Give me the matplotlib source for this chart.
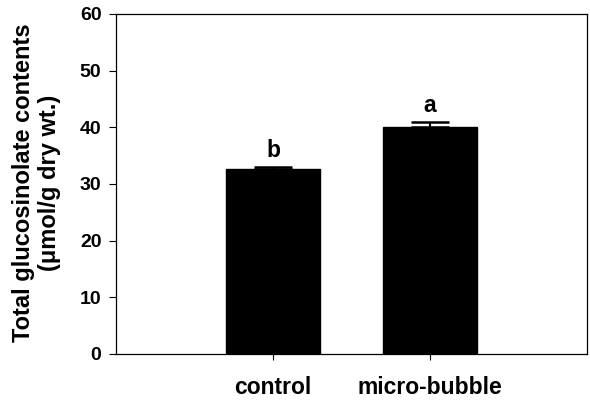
import matplotlib
matplotlib.use("Agg")
import matplotlib.pyplot as plt

categories = ["control", "micro-bubble"]
values = [32.6, 40.0]
errors = [0.4, 0.9]
letters = ["b", "a"]
yticks = [0, 10, 20, 30, 40, 50, 60]

plt.rcParams["font.family"] = ["Liberation Sans", "DejaVu Sans"]

fig = plt.figure(figsize=(5.9, 4.01), dpi=100)
ax = fig.add_axes([116 / 590, (401 - 354) / 401, 471 / 590, 340 / 401])

pos = [1, 2]
ax.bar(pos, values, width=0.6, color="black", edgecolor="black",
       yerr=[[0] * len(errors), errors], capsize=14,
       error_kw=dict(ecolor="black", elinewidth=1.5, capthick=1.8))

for p, v, e, t in zip(pos, values, errors, letters):
    ax.text(p, v + e + 1.8, t, ha="center", va="baseline",
            fontsize=16.5, fontweight="bold")

ax.set_xlim(0, 3)
ax.set_ylim(0, 60)
ax.set_xticks(pos)
ax.set_xticklabels(categories, fontsize=16.5, fontweight="bold")
ax.set_yticks(yticks)
ax.set_yticklabels([str(t) for t in yticks], fontsize=14, fontweight="bold")
ax.tick_params(axis="x", length=4.5, width=0.8, pad=11)
ax.tick_params(axis="y", length=5, width=0.8, pad=5.5)
for s in ax.spines.values():
    s.set_linewidth(0.9)

fig.text(36.5 / 590, 1 - 183 / 401,
         "Total glucosinolate contents\n(\u03bcmol/g dry wt.)",
         rotation=90, ha="center", va="center", multialignment="center",
         fontsize=17, fontweight="bold", linespacing=1.15)

fig.savefig("out.png", dpi=100)
